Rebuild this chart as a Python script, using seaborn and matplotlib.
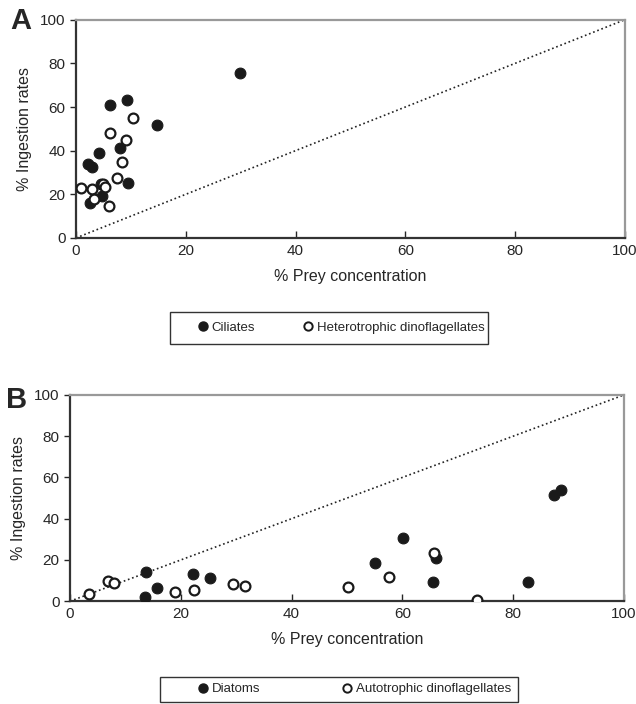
import pandas as pd
import matplotlib.pyplot as plt
from matplotlib.lines import Line2D
from matplotlib.patches import Rectangle
import seaborn as sns

# Panel A data (% prey concentration, % ingestion rates)
ciliates_x = [6.2, 9.3, 14.7, 8.0, 4.2, 2.2, 2.9, 9.5, 4.5, 4.7, 2.6, 29.9]
ciliates_y = [60.7, 63.3, 51.8, 41.4, 38.8, 33.8, 32.4, 25.4, 24.8, 19.0, 15.9, 75.7]
hetero_x = [10.3, 6.2, 9.1, 8.4, 7.4, 0.9, 2.9, 4.9, 5.3, 3.2, 6.0]
hetero_y = [54.9, 48.3, 45.0, 34.7, 27.4, 22.8, 22.3, 24.5, 23.5, 17.7, 14.7]

# Panel B data
diatoms_x = [13.8, 13.5, 15.7, 22.3, 25.3, 55.1, 60.1, 66.0, 65.5, 82.6, 87.3, 88.6]
diatoms_y = [14.1, 1.9, 6.5, 13.1, 11.3, 18.4, 30.5, 21.0, 9.2, 9.4, 51.6, 53.7]
auto_x = [3.5, 6.8, 8.0, 18.9, 22.4, 29.4, 31.6, 50.2, 57.6, 65.8, 73.4]
auto_y = [3.7, 9.7, 8.7, 4.4, 5.3, 8.3, 7.6, 6.9, 11.6, 23.5, 0.5]

ticks = [0, 20, 40, 60, 80, 100]

sns.set_theme(style="white")
plt.rcParams['font.family'] = ['Liberation Sans', 'DejaVu Sans']

W, H = 636, 704
fig = plt.figure(figsize=(W / 100, H / 100), dpi=100)
axA = fig.add_axes([0.1195, 0.662, 0.863, 0.310])
axB = fig.add_axes([0.110, 0.146, 0.871, 0.293])


def draw_panel(ax, fx, fy, ox, oy):
    # 1:1 reference line
    ax.plot([0, 100], [0, 100], ls=':', color='#222222', lw=1.2, zorder=1)
    sns.scatterplot(x=fx, y=fy, ax=ax, color='#1a1a1a', edgecolor='#1a1a1a',
                    s=60, linewidth=0.8, zorder=3)
    sns.scatterplot(x=ox, y=oy, ax=ax, color='white', edgecolor='#1a1a1a',
                    s=50, linewidth=1.6, zorder=3)
    ax.set_xlim(0, 100)
    ax.set_ylim(0, 100)
    ax.set_xticks(ticks)
    ax.set_yticks(ticks)
    ax.tick_params(axis='x', direction='in', length=5, width=1, labelsize=11,
                   pad=4, bottom=True)
    ax.tick_params(axis='y', direction='out', length=4, width=1, labelsize=11,
                   left=True)
    for side in ['left', 'bottom']:
        ax.spines[side].set_color('#333333')
        ax.spines[side].set_linewidth(1.6)
    for side in ['top', 'right']:
        ax.spines[side].set_color('#999999')
        ax.spines[side].set_linewidth(1.6)
    ax.set_xlabel('% Prey concentration', fontsize=11.5, labelpad=8)
    ax.set_ylabel('% Ingestion rates', fontsize=11.5, labelpad=6)


draw_panel(axA, ciliates_x, ciliates_y, hetero_x, hetero_y)
draw_panel(axB, diatoms_x, diatoms_y, auto_x, auto_y)

fig.text(10 / W, 1 - 21 / H, 'A', fontsize=21, fontweight='bold', va='center', ha='left')
fig.text(6 / W, 1 - 400 / H, 'B', fontsize=21, fontweight='bold', va='center', ha='left')


def make_legend(labels, x0, yc, colspace, box):
    handles = [
        Line2D([], [], marker='o', ls='', markerfacecolor='#1a1a1a',
               markeredgecolor='#1a1a1a', markersize=6.5),
        Line2D([], [], marker='o', ls='', markerfacecolor='white',
               markeredgecolor='#1a1a1a', markeredgewidth=1.4, markersize=6),
    ]
    fig.legend(handles, labels, loc='center left',
               bbox_to_anchor=(x0 / W, 1 - yc / H), ncol=2, fontsize=9.5,
               frameon=False, handletextpad=0.25, borderpad=0,
               borderaxespad=0, handlelength=0.8, columnspacing=colspace)
    left, top, right, bottom = box
    fig.patches.append(Rectangle((left / W, 1 - bottom / H),
                                 (right - left) / W, (bottom - top) / H,
                                 transform=fig.transFigure, fill=False,
                                 edgecolor='#333333', linewidth=1.0))


make_legend(['Ciliates', 'Heterotrophic dinoflagellates'], 198, 328, 3.6,
            (170, 312, 488, 344))
make_legend(['Diatoms', 'Autotrophic dinoflagellates'], 198, 689, 6.2,
            (160, 677, 518, 702))

fig.savefig('out.png', dpi=100, facecolor='white')
